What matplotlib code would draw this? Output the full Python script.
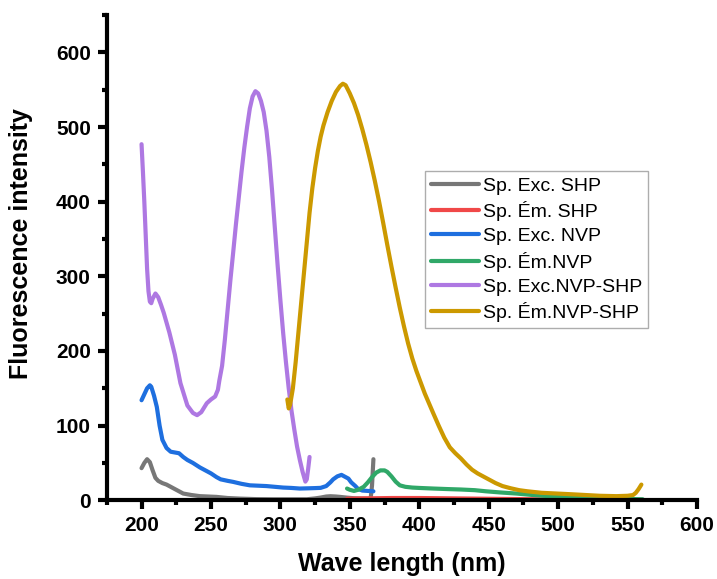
import matplotlib
matplotlib.use("Agg")
import matplotlib.pyplot as plt
from matplotlib.ticker import MultipleLocator

plt.rcParams['font.family'] = ['Liberation Sans', 'DejaVu Sans']

# spectra (wavelength nm, intensity a.u.)
exc_shp_x = [200, 202, 204, 206, 208, 210, 212, 215, 218, 221, 226, 230, 236, 242, 248, 254, 262, 271, 283,
             295, 307, 319, 325, 329, 333, 336, 340, 343, 348, 353, 358, 363, 365, 366, 367]
exc_shp_y = [43, 50, 55, 51, 40, 30, 26, 23, 21, 18, 13, 9, 7, 5.5, 5, 4.5, 3, 2.2, 1.5,
             1.3, 1.3, 1.3, 2.5, 3.6, 5, 5.4, 5, 4.5, 3.5, 2.7, 2.4, 2.2, 2, 20, 55]

em_shp_x = [348, 360, 380, 400, 425, 450, 475, 500, 530, 561]
em_shp_y = [2, 2.5, 3, 3, 2.5, 2, 1.5, 1, 0.7, 0.5]

exc_nvp_x = [200, 202, 204, 206, 207, 209, 211, 213, 215, 218, 221, 224, 227, 230, 233, 237, 242, 246, 250,
             254, 257, 262, 266, 272, 278, 284, 290, 296, 302, 308, 314, 320, 325, 329, 333, 336, 338,
             341, 344, 346, 349, 351, 354, 356, 359, 363, 367]
exc_nvp_y = [134, 142, 150, 154, 152, 140, 125, 100, 81, 70, 65, 64, 63, 58, 54, 50, 44, 40, 36,
             31, 28, 26, 24.6, 22, 20, 19.5, 19, 18, 17, 16.5, 15.7, 16, 16.3, 16.6, 19, 24, 28,
             32, 34, 32, 29, 24, 19, 15, 13, 12.5, 12]

em_nvp_x = [348, 350, 353, 356, 360, 363, 366, 369, 372, 375, 377, 380, 383, 386, 390, 395, 400, 410,
            420, 430, 440, 448, 458, 470, 482, 494, 506, 518, 530, 542, 552, 561]
em_nvp_y = [15.7, 14, 12.5, 14, 18, 24, 31, 37, 40, 40, 38, 32, 25, 20, 18, 17, 16.5, 15.7,
            15, 14.4, 13.5, 12, 10.5, 9, 7, 5.4, 4.5, 3.6, 3, 2.2, 1.7, 1.3]

exc_nvp_shp_x = [200, 201, 202, 203, 204, 205, 206, 207, 208, 210, 212, 214, 216, 220, 224, 228, 233, 237,
                 240, 243, 247, 250, 253, 255, 256, 258, 260, 262, 264, 266, 268, 270, 272, 274, 276,
                 278, 280, 282, 284, 286, 288, 290, 292, 294, 296, 298, 300, 302, 304, 306, 308, 310,
                 312, 314, 316, 318, 319, 320, 321]
exc_nvp_shp_y = [477, 440, 400, 355, 310, 280, 266, 264, 270, 277, 272, 262, 251, 225, 195, 157, 127, 117,
                 114, 118, 130, 135, 139, 148, 160, 180, 215, 255, 295, 332, 370, 405, 440, 472, 500,
                 525, 541, 548, 545, 535, 520, 495, 460, 415, 365, 315, 268, 224, 185, 150, 120, 95,
                 72, 54, 38, 25, 28, 42, 58]

em_nvp_shp_x = [305, 306, 307, 309, 311, 313, 315, 317, 319, 321, 323, 325, 327, 329, 331, 334, 337, 340,
                343, 345, 347, 350, 353, 356, 359, 362, 365, 368, 371, 374, 377, 380, 383, 386, 389,
                392, 395, 398, 401, 404, 407, 410, 414, 418, 422, 426, 430, 434, 438, 442, 446, 450,
                455, 460, 466, 472, 478, 488, 499, 510, 520, 530, 542, 550, 554, 556, 558, 560]
em_nvp_shp_y = [135, 123, 128, 150, 185, 225, 265, 305, 345, 385, 418, 445, 468, 487, 502, 520, 535, 547,
                555, 558, 556, 545, 532, 516, 497, 476, 453, 428, 401, 372, 342, 313, 285, 258, 233,
                210, 190, 173, 158, 143, 130, 117, 100, 84, 71, 63, 56, 48, 41, 36, 32, 28,
                23, 19, 16, 13.5, 12, 10, 9, 8, 7, 6, 5.5, 6, 7, 10, 15, 21]

labels = ['Sp. Exc. SHP', 'Sp. Ém. SHP', 'Sp. Exc. NVP', 'Sp. Ém.NVP',
          'Sp. Exc.NVP-SHP', 'Sp. Ém.NVP-SHP']
colors = ['#777777', '#F04848', '#1E6FDF', '#30A868', '#AE78E2', '#CC9900']

series = [(exc_shp_x, exc_shp_y), (em_shp_x, em_shp_y), (exc_nvp_x, exc_nvp_y),
          (em_nvp_x, em_nvp_y), (exc_nvp_shp_x, exc_nvp_shp_y), (em_nvp_shp_x, em_nvp_shp_y)]

fig = plt.figure(figsize=(7.17, 5.79), dpi=100)
ax = fig.add_axes([0.149, 0.136, 0.823, 0.838])

for (x, y), lab, c in zip(series, labels, colors):
    ax.plot(x, y, color=c, lw=3, label=lab, solid_capstyle='round', solid_joinstyle='round')

ax.set_xlim(175, 600)
ax.set_ylim(0, 650)
ax.xaxis.set_major_locator(MultipleLocator(50))
ax.xaxis.set_minor_locator(MultipleLocator(25))
ax.yaxis.set_major_locator(MultipleLocator(100))
ax.yaxis.set_minor_locator(MultipleLocator(50))

for s in ['top', 'right']:
    ax.spines[s].set_visible(False)
for s in ['left', 'bottom']:
    ax.spines[s].set_linewidth(3)

ax.tick_params(which='major', direction='out', length=6.5, width=3, labelsize=15, pad=5)
ax.tick_params(which='minor', direction='out', length=3.5, width=3)
for t in ax.get_xticklabels() + ax.get_yticklabels():
    t.set_fontweight('bold')

ax.set_xlabel('Wave length (nm)', fontsize=18, fontweight='bold', labelpad=12)
ax.set_ylabel('Fluorescence intensity', fontsize=18, fontweight='bold')
ax.yaxis.set_label_coords(-0.125, 0.53)

leg = ax.legend(loc='upper left', bbox_to_anchor=(0.539, 0.678), fontsize=14, frameon=True,
                fancybox=False, edgecolor='#999999', handlelength=2.5, handletextpad=0.2,
                labelspacing=0.33, borderpad=0.3, borderaxespad=0)
leg.get_frame().set_linewidth(1.0)

fig.savefig('out.png', dpi=100)
